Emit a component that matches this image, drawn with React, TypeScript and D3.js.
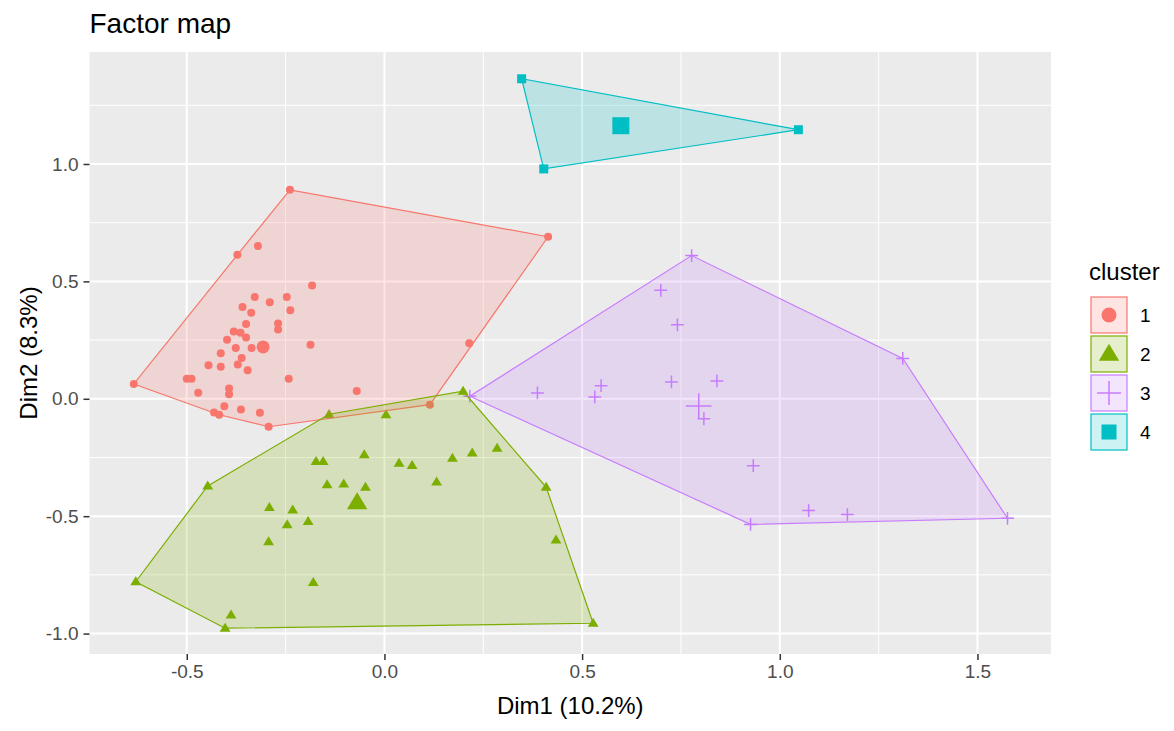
import React, { useEffect, useRef } from 'react';
import * as d3 from 'd3';

// cluster 1 (circles)
const cluster1 = [
  [-0.239, 0.890], [-0.372, 0.613], [-0.320, 0.651], [-0.183, 0.483], [-0.328, 0.433],
  [-0.290, 0.411], [-0.247, 0.433], [-0.359, 0.391], [-0.337, 0.366], [-0.238, 0.377],
  [-0.350, 0.318], [-0.269, 0.321], [-0.269, 0.295], [-0.381, 0.287], [-0.364, 0.281],
  [-0.350, 0.261], [-0.398, 0.251], [-0.376, 0.216], [-0.336, 0.216], [-0.187, 0.230],
  [-0.414, 0.194], [-0.361, 0.174], [-0.371, 0.146], [-0.445, 0.143], [-0.414, 0.136],
  [-0.346, 0.122], [-0.500, 0.085], [-0.488, 0.085], [-0.242, 0.085], [-0.634, 0.063],
  [-0.471, 0.026], [-0.393, 0.044], [-0.393, 0.019], [-0.070, 0.033], [-0.405, -0.032],
  [-0.431, -0.058], [-0.418, -0.068], [-0.363, -0.046], [-0.315, -0.060], [-0.293, -0.119],
  [0.115, -0.025], [0.414, 0.690], [0.2145, 0.236],
];
// cluster 2 (triangles)
const cluster2 = [
  [-0.140, -0.066], [0.004, -0.068], [0.199, 0.032], [-0.447, -0.371], [-0.629, -0.779],
  [-0.403, -0.977], [-0.388, -0.921], [-0.180, -0.782], [-0.293, -0.608], [-0.246, -0.536],
  [-0.193, -0.522], [-0.291, -0.463], [-0.232, -0.473], [-0.145, -0.366], [-0.103, -0.362],
  [-0.048, -0.376], [-0.173, -0.267], [-0.155, -0.267], [-0.051, -0.238], [0.037, -0.274],
  [0.070, -0.284], [0.172, -0.253], [0.222, -0.230], [0.285, -0.210], [0.132, -0.354],
  [0.409, -0.376], [0.434, -0.601], [0.528, -0.956],
];
// cluster 3 (plus)
const cluster3 = [
  [0.777, 0.610], [0.699, 0.462], [0.741, 0.315], [0.216, 0.011], [0.387, 0.025],
  [0.548, 0.056], [0.532, 0.008], [0.726, 0.072], [0.841, 0.076], [0.808, -0.085],
  [0.933, -0.285], [0.926, -0.535], [1.311, 0.172], [1.576, -0.509], [1.073, -0.476],
  [1.171, -0.493],
];
// cluster 4 (squares)
const cluster4 = [[0.347, 1.363], [0.403, 0.979], [1.047, 1.146]];

const centroids = [[-0.307, 0.221], [-0.069, -0.441], [0.795, -0.031], [0.598, 1.163]];
const clusterNames = ['1', '2', '3', '4'];
const clusterColors = ['#F8766D', '#7CAE00', '#C77CFF', '#00BFC4'];
const shapes = ['circle', 'triangle', 'plus', 'square'];

const xTicks = [-0.5, 0, 0.5, 1, 1.5];
const xTickLabels = ['-0.5', '0.0', '0.5', '1.0', '1.5'];
const yTicks = [-1, -0.5, 0, 0.5, 1];
const yTickLabels = ['-1.0', '-0.5', '0.0', '0.5', '1.0'];
const xMinor = [-0.25, 0.25, 0.75, 1.25];
const yMinor = [-0.75, -0.25, 0.25, 0.75, 1.25];

const FONT = '"Liberation Sans", Arial, sans-serif';

const drawShape = (g, shape, cx, cy, size, color) => {
  if (shape === 'circle') {
    g.append('circle').attr('cx', cx).attr('cy', cy).attr('r', size / 2).attr('fill', color);
  } else if (shape === 'triangle') {
    const w = size * 1.2, h = size;
    g.append('path')
      .attr('d', `M${cx},${cy - h * 0.6}L${cx + w / 2},${cy + h * 0.4}L${cx - w / 2},${cy + h * 0.4}Z`)
      .attr('fill', color);
  } else if (shape === 'plus') {
    const s = size * 0.8;
    g.append('path')
      .attr('d', `M${cx - s},${cy}H${cx + s}M${cx},${cy - s}V${cy + s}`)
      .attr('stroke', color).attr('stroke-width', 1.5).attr('fill', 'none');
  } else {
    g.append('rect').attr('x', cx - size / 2).attr('y', cy - size / 2)
      .attr('width', size).attr('height', size).attr('fill', color);
  }
};

const App = () => {
  const svgRef = useRef();

  useEffect(() => {
    const svg = d3.select(svgRef.current);
    svg.selectAll('*').remove();

    const left = 89.5, right = 1051, top = 52, bottom = 654;
    const x = d3.scaleLinear().domain([-0.746, 1.686]).range([left, right]);
    const y = d3.scaleLinear().domain([-1.087, 1.477]).range([bottom, top]);

    svg.append('rect').attr('width', 1174).attr('height', 731).attr('fill', '#FFFFFF');

    // panel + grid
    svg.append('rect').attr('x', left).attr('y', top)
      .attr('width', right - left).attr('height', bottom - top).attr('fill', '#EBEBEB');

    const grid = svg.append('g');
    xMinor.forEach(v => grid.append('line').attr('x1', x(v)).attr('x2', x(v))
      .attr('y1', top).attr('y2', bottom).attr('stroke', '#fff').attr('stroke-width', 1));
    yMinor.forEach(v => grid.append('line').attr('y1', y(v)).attr('y2', y(v))
      .attr('x1', left).attr('x2', right).attr('stroke', '#fff').attr('stroke-width', 1));
    xTicks.forEach(v => grid.append('line').attr('x1', x(v)).attr('x2', x(v))
      .attr('y1', top).attr('y2', bottom).attr('stroke', '#fff').attr('stroke-width', 2));
    yTicks.forEach(v => grid.append('line').attr('y1', y(v)).attr('y2', y(v))
      .attr('x1', left).attr('x2', right).attr('stroke', '#fff').attr('stroke-width', 2));

    const clusters = [cluster1, cluster2, cluster3, cluster4];
    const pointSizes = [8, 9, 8, 9];
    const centroidSizes = [13, 17, 16, 17];

    // points
    const pts = svg.append('g');
    clusters.forEach((data, i) => {
      data.forEach(d => drawShape(pts, shapes[i], x(d[0]), y(d[1]), pointSizes[i], clusterColors[i]));
    });

    // convex hulls
    const hulls = svg.append('g');
    clusters.forEach((data, i) => {
      const hull = d3.polygonHull(data.map(d => [x(d[0]), y(d[1])]));
      hulls.append('path')
        .attr('d', d3.line()(hull) + 'Z')
        .attr('fill', clusterColors[i]).attr('fill-opacity', 0.2)
        .attr('stroke', clusterColors[i]).attr('stroke-width', 1.2);
    });

    // centroids
    const cg = svg.append('g');
    centroids.forEach((d, i) => drawShape(cg, shapes[i], x(d[0]), y(d[1]), centroidSizes[i], clusterColors[i]));

    // axes
    const xAxis = svg.append('g').attr('transform', `translate(0,${bottom})`)
      .call(d3.axisBottom(x).tickValues(xTicks).tickSize(6).tickPadding(5)
        .tickFormat((d, i) => xTickLabels[i]));
    const yAxis = svg.append('g').attr('transform', `translate(${left},0)`)
      .call(d3.axisLeft(y).tickValues(yTicks).tickSize(6).tickPadding(5)
        .tickFormat((d, i) => yTickLabels[i]));
    [xAxis, yAxis].forEach(a => {
      a.select('.domain').remove();
      a.selectAll('.tick line').attr('stroke', '#333333').attr('stroke-width', 1.5);
      a.selectAll('.tick text').attr('fill', '#4D4D4D').style('font-family', FONT).style('font-size', '19px');
    });

    // titles
    svg.append('text').attr('x', left).attr('y', 33).text('Factor map')
      .style('font-family', FONT).style('font-size', '28px').attr('fill', '#000');
    svg.append('text').attr('x', (left + right) / 2).attr('y', 714).attr('text-anchor', 'middle')
      .text('Dim1 (10.2%)').style('font-family', FONT).style('font-size', '24px');
    svg.append('text').attr('transform', `translate(37,${(top + bottom) / 2}) rotate(-90)`)
      .attr('text-anchor', 'middle').text('Dim2 (8.3%)')
      .style('font-family', FONT).style('font-size', '24px');

    // legend
    const lg = svg.append('g');
    lg.append('text').attr('x', 1089).attr('y', 280).text('cluster')
      .style('font-family', FONT).style('font-size', '24px');
    const legendSizes = [15, 17, 15, 15];
    clusterNames.forEach((name, i) => {
      const ky = 297 + i * 39;
      lg.append('rect').attr('x', 1091).attr('y', ky).attr('width', 36).attr('height', 36)
        .attr('fill', clusterColors[i]).attr('fill-opacity', 0.2)
        .attr('stroke', clusterColors[i]).attr('stroke-width', 1.2);
      drawShape(lg, shapes[i], 1109, ky + 18, legendSizes[i], clusterColors[i]);
      lg.append('text').attr('x', 1140).attr('y', ky + 18).attr('dy', '0.35em').text(name)
        .style('font-family', FONT).style('font-size', '19px').attr('fill', '#000');
    });
  }, []);

  return <svg ref={svgRef} width={1174} height={731} style={{ position: 'absolute', left: 0, top: 0 }}></svg>;
};

export default App;
